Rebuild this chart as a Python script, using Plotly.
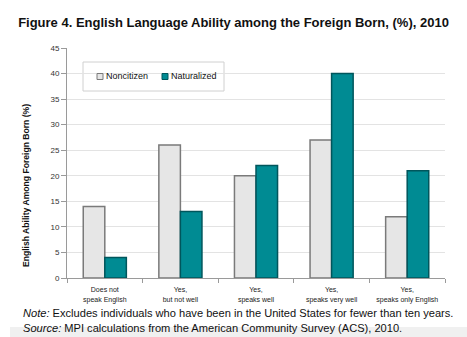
import plotly.graph_objects as go

categories = ["Does not<br>speak English", "Yes,<br>but not well", "Yes,<br>speaks well",
              "Yes,<br>speaks very well", "Yes,<br>speaks only English"]
noncitizen = [14, 26, 20, 27, 12]
naturalized = [4, 13, 22, 40, 21]
y_ticks = [0, 5, 10, 15, 20, 25, 30, 35, 40, 45]
series_names = ["Noncitizen", "Naturalized"]
fill_colors = ["#e6e6e6", "#008b93"]
edge_colors = ["#7a7a7a", "#00565c"]

W, H = 467, 337
L, R, T, B = 67, 445, 48, 278

def px(x):
    return (x - L) / (R - L)

def py(y):
    return (B - y) / (B - T)

fig = go.Figure()
for name, vals, fc, ec in zip(series_names, [noncitizen, naturalized], fill_colors, edge_colors):
    fig.add_trace(go.Bar(name=name, x=categories, y=vals, showlegend=False,
                         marker=dict(color=fc, line=dict(color=ec, width=1.5))))

fig.update_layout(
    width=W, height=H,
    margin=dict(l=L, r=W - R, t=T, b=H - B),
    paper_bgcolor="white", plot_bgcolor="white",
    barmode="group", bargap=0.43, bargroupgap=0,
    font=dict(family="Liberation Sans, Arial, sans-serif", color="#111111"),
    title=dict(text="<b>Figure 4. English Language Ability among the Foreign Born, (%), 2010</b>",
               x=233.5 / W, xanchor="center", xref="container",
               y=1 - 22 / H, yanchor="middle", yref="container",
               font=dict(size=13, color="#111111")),
    xaxis=dict(showline=True, linecolor="#9a9a9a", linewidth=1, ticks="outside",
               tickson="boundaries", ticklen=4, tickcolor="#9a9a9a",
               ticklabelstandoff=5,
               tickfont=dict(size=7, color="#222222"), showgrid=False),
    yaxis=dict(range=[0, 45], tickvals=y_ticks, showline=True, linecolor="#9a9a9a",
               linewidth=1, ticks="outside", ticklen=5, tickcolor="#9a9a9a",
               tickfont=dict(size=8, color="#333333"), showgrid=True,
               gridcolor="#e3e3e3", gridwidth=1, zeroline=False),
)

# legend box
fig.add_shape(type="rect", xref="paper", yref="paper",
              x0=px(83), x1=px(224), y0=py(91), y1=py(62),
              line=dict(color="#d0d0d0", width=1), fillcolor="white", layer="below")
# legend entries
leg_x = [97, 162]
for lx, name, fc, ec in zip(leg_x, series_names, fill_colors, edge_colors):
    fig.add_shape(type="rect", xref="paper", yref="paper",
                  x0=px(lx), x1=px(lx + 6), y0=py(79.5), y1=py(73.5),
                  line=dict(color=ec, width=1), fillcolor=fc)
    fig.add_annotation(text=name, xref="paper", yref="paper", x=px(lx + 7), y=py(76.5),
                       showarrow=False, xanchor="left", yanchor="middle",
                       font=dict(size=9, color="#111111"))

# bottom gray strip
fig.add_shape(type="rect", xref="paper", yref="paper",
              x0=px(10), x1=px(467), y0=py(337), y1=py(327),
              line=dict(width=0), fillcolor="#f0f0f0", layer="below")

fig.add_annotation(text="<b>English Ability Among Foreign Born (%)</b>", textangle=-90,
                   xref="paper", yref="paper", x=px(26), y=py(186), showarrow=False,
                   xanchor="center", yanchor="middle", font=dict(size=8.6, color="#111111"))
fig.add_annotation(text="<i>Note:</i> Excludes individuals who have been in the United States for fewer than ten years.",
                   xref="paper", yref="paper", x=px(21), y=py(313), showarrow=False,
                   xanchor="left", yanchor="middle", font=dict(size=11.1, color="#111111"))
fig.add_annotation(text="<i>Source:</i> MPI calculations from the American Community Survey (ACS), 2010.",
                   xref="paper", yref="paper", x=px(21), y=py(327.5), showarrow=False,
                   xanchor="left", yanchor="middle", font=dict(size=11.1, color="#111111"))

fig.write_html("out.html")
